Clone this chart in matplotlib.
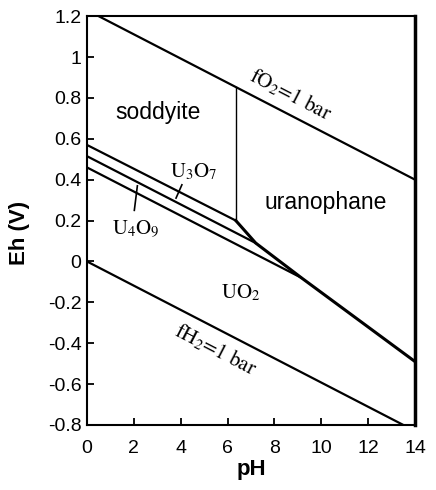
"""
Eh-pH diagram: uranyl silicates (soddyite, uranophane) and uranium oxides.
"""
import numpy as np
import matplotlib
matplotlib.use("Agg")
import matplotlib.pyplot as plt
from matplotlib.ticker import FuncFormatter

# water stability limits
ph_fo2 = [0.5, 14.0]
eh_fo2 = [1.20, 0.40]
ph_fh2 = [0.0, 13.5]
eh_fh2 = [0.00, -0.80]

# oxide boundaries (parallel lines)
ph_sod_u3o7 = [0.0, 6.35]
eh_sod_u3o7 = [0.57, 0.20]
ph_u3o7_u4o9 = [0.0, 7.2]
eh_u3o7_u4o9 = [0.515, 0.09]
ph_u4o9_uo2 = [0.0, 9.15]
eh_u4o9_uo2 = [0.46, -0.08]

# uranophane lower boundary and soddyite/uranophane boundary
ph_uranophane = [6.35, 7.2, 9.15, 14.0]
eh_uranophane = [0.20, 0.09, -0.08, -0.49]
ph_sod_uran = [6.35, 6.35]
eh_sod_uran = [0.20, 0.853]

x_ticks = [0, 2, 4, 6, 8, 10, 12, 14]
y_ticks = [-0.8, -0.6, -0.4, -0.2, 0, 0.2, 0.4, 0.6, 0.8, 1.0, 1.2]

plt.rcParams["mathtext.fontset"] = "stix"
plt.rcParams["axes.unicode_minus"] = False

SANS = "Liberation Sans"
SERIF = "STIXGeneral"

fig = plt.figure(figsize=(4.36, 4.90), dpi=100)
ax = fig.add_axes([0.1995, 0.1327, 0.7525, 0.8343])
ax.set_xlim(0, 14)
ax.set_ylim(-0.8, 1.2)

lw = 1.6
ax.plot(ph_fo2, eh_fo2, color="black", lw=lw)
ax.plot(ph_fh2, eh_fh2, color="black", lw=lw)
ax.plot(ph_sod_u3o7, eh_sod_u3o7, color="black", lw=lw)
ax.plot(ph_u3o7_u4o9, eh_u3o7_u4o9, color="black", lw=lw)
ax.plot(ph_u4o9_uo2, eh_u4o9_uo2, color="black", lw=lw)
ax.plot(ph_uranophane, eh_uranophane, color="black", lw=2.2)
ax.plot(ph_sod_uran, eh_sod_uran, color="black", lw=1.0)

# leader ticks for the narrow fields
ax.plot([4.05, 3.8], [0.375, 0.31], color="black", lw=1.2)
ax.plot([2.15, 2.02], [0.37, 0.25], color="black", lw=1.2)

# rotation of the water lines in screen space
slope = (eh_fo2[1] - eh_fo2[0]) / (ph_fo2[1] - ph_fo2[0])
rot = ax.transData.transform_angles(np.array([np.degrees(np.arctan(slope))]),
                                    np.array([[7.0, 0.8]]))[0]

ax.text(3.05, 0.73, "soddyite", family=SANS, fontsize=16.5, ha="center", va="center")
ax.text(10.2, 0.29, "uranophane", family=SANS, fontsize=16.5, ha="center", va="center")
ax.text(8.7, 0.815, "fO$_2$=1 bar", family=SERIF, fontsize=15,
        rotation=rot, rotation_mode="anchor", ha="center", va="center")
ax.text(5.5, -0.43, "fH$_2$=1 bar", family=SERIF, fontsize=15,
        rotation=rot, rotation_mode="anchor", ha="center", va="center")
ax.text(4.55, 0.44, "U$_3$O$_7$", family=SERIF, fontsize=15, ha="center", va="center")
ax.text(2.08, 0.16, "U$_4$O$_9$", family=SERIF, fontsize=15, ha="center", va="center")
ax.text(6.55, -0.155, "UO$_2$", family=SERIF, fontsize=15, ha="center", va="center")

# axes styling
for side in ["left", "bottom", "top"]:
    ax.spines[side].set_linewidth(1.5)
ax.spines["right"].set_linewidth(2.5)

ax.set_xticks(x_ticks)
ax.set_yticks(y_ticks)
ax.yaxis.set_major_formatter(FuncFormatter(lambda v, p: "%g" % round(v, 1)))
ax.tick_params(direction="in", length=5, width=1.3, labelsize=14)
ax.tick_params(axis="x", pad=11)
ax.tick_params(axis="y", pad=4)
for lab in ax.get_xticklabels() + ax.get_yticklabels():
    lab.set_family(SANS)

ax.set_xlabel("pH", family=SANS, fontsize=16, fontweight="bold", labelpad=1)
ax.set_ylabel("Eh (V)", family=SANS, fontsize=16, fontweight="bold")
ax.yaxis.set_label_coords(-0.175, 0.47)

fig.savefig("out.png", dpi=100)
